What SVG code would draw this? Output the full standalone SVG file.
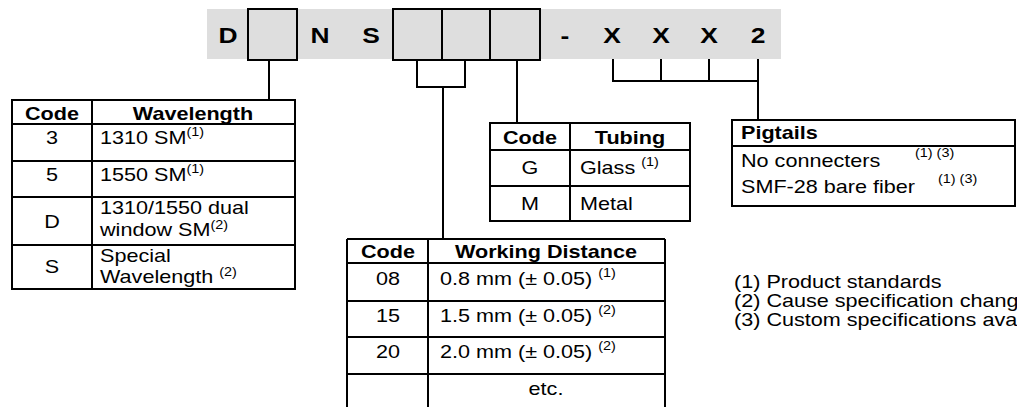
<svg xmlns="http://www.w3.org/2000/svg" width="1017" height="407" viewBox="0 0 1017 407">
<style>
.t{font-family:"Liberation Sans",Arial,sans-serif;font-size:18px;fill:#000}
.b{font-weight:bold}
.m{text-anchor:middle}
.s{font-size:12px}
.bar{font-size:22px;font-weight:bold}
.ln{stroke:#000;stroke-width:2;fill:none}
.bx{stroke:#000;stroke-width:2;fill:#dedede}
.tb{stroke:#000;stroke-width:2;fill:#fff}
</style>
<rect width="1017" height="407" fill="#fff"/>
<g id="code-bar">
<rect x="207" y="9" width="574" height="50" fill="#dedede"/>
<rect class="bx" x="248" y="9" width="49" height="51"/>
<rect class="bx" x="393" y="9" width="147" height="51"/>
<path class="ln" d="M442 9V60M490 9V60"/>
<text class="t bar m" transform="translate(228 43) scale(1.2 1)">D</text>
<text class="t bar m" transform="translate(320 43) scale(1.2 1)">N</text>
<text class="t bar m" transform="translate(371 43) scale(1.2 1)">S</text>
<text class="t bar m" transform="translate(565 43) scale(1.2 1)">-</text>
<text class="t bar m" transform="translate(612 43) scale(1.2 1)">X</text>
<text class="t bar m" transform="translate(661 43) scale(1.2 1)">X</text>
<text class="t bar m" transform="translate(709 43) scale(1.2 1)">X</text>
<text class="t bar m" transform="translate(758 43) scale(1.2 1)">2</text>
</g>
<g id="connectors">
<path class="ln" d="M269 60V100"/>
<path class="ln" d="M417 60V87H465M465 60V88M443 87V239"/>
<path class="ln" d="M517 60V123"/>
<path class="ln" d="M613 59V81H758M661 59V81M709 59V81M758 59V120"/>
</g>
<g id="wavelength-table">
<rect class="tb" x="12" y="100" width="283" height="189"/>
<path class="ln" d="M12 124H295M12 161H295M12 197H295M12 245H295M92 100V289"/>
<text class="t b m" transform="translate(52 120) scale(1.2 1)">Code</text>
<text class="t b m" transform="translate(193 120) scale(1.2 1)">Wavelength</text>
<text class="t m" transform="translate(52 144) scale(1.2 1)">3</text>
<text class="t" transform="translate(100 144) scale(1.2 1)">1310 SM<tspan class="s" dy="-8">(1)</tspan></text>
<text class="t m" transform="translate(52 181) scale(1.2 1)">5</text>
<text class="t" transform="translate(100 181) scale(1.2 1)">1550 SM<tspan class="s" dy="-8">(1)</tspan></text>
<text class="t m" transform="translate(52 228) scale(1.2 1)">D</text>
<text class="t" transform="translate(100 214) scale(1.2 1)">1310/1550 dual</text>
<text class="t" transform="translate(100 236) scale(1.2 1)">window SM<tspan class="s" dy="-7">(2)</tspan></text>
<text class="t m" transform="translate(52 273) scale(1.2 1)">S</text>
<text class="t" transform="translate(100 262) scale(1.2 1)">Special</text>
<text class="t" transform="translate(100 283) scale(1.2 1)">Wavelength <tspan class="s" dy="-7">(2)</tspan></text>
</g>
<g id="tubing-table">
<rect class="tb" x="490" y="123" width="200" height="98"/>
<path class="ln" d="M490 150H690M490 186H690M570 123V221"/>
<text class="t b m" transform="translate(530 144) scale(1.2 1)">Code</text>
<text class="t b m" transform="translate(630 144) scale(1.2 1)">Tubing</text>
<text class="t m" transform="translate(530 174) scale(1.2 1)">G</text>
<text class="t" transform="translate(580 174) scale(1.2 1)">Glass <tspan class="s" dy="-8">(1)</tspan></text>
<text class="t m" transform="translate(530 210) scale(1.2 1)">M</text>
<text class="t" transform="translate(580 210) scale(1.2 1)">Metal</text>
</g>
<g id="distance-table">
<path class="ln" d="M347 239H665M347 263H665M347 301H665M347 337H665M347 374H665M347 239V410M428 239V410M665 239V410"/>
<text class="t b m" transform="translate(388 258) scale(1.2 1)">Code</text>
<text class="t b m" transform="translate(546 258) scale(1.2 1)">Working Distance</text>
<text class="t m" transform="translate(388 285) scale(1.2 1)">08</text>
<text class="t" transform="translate(440 285) scale(1.2 1)">0.8 mm (± 0.05) <tspan class="s" dy="-8">(1)</tspan></text>
<text class="t m" transform="translate(388 322) scale(1.2 1)">15</text>
<text class="t" transform="translate(440 322) scale(1.2 1)">1.5 mm (± 0.05) <tspan class="s" dy="-8">(2)</tspan></text>
<text class="t m" transform="translate(388 358) scale(1.2 1)">20</text>
<text class="t" transform="translate(440 358) scale(1.2 1)">2.0 mm (± 0.05) <tspan class="s" dy="-8">(2)</tspan></text>
<text class="t m" transform="translate(546 395) scale(1.2 1)">etc.</text>
</g>
<g id="pigtails-table">
<rect class="tb" x="732" y="120" width="283" height="86"/>
<path class="ln" d="M732 146H1015"/>
<text class="t b" transform="translate(741 139) scale(1.2 1)">Pigtails</text>
<text class="t" transform="translate(741 167) scale(1.2 1)">No connecters</text>
<text class="t s" transform="translate(915 157) scale(1.2 1)">(1) (3)</text>
<text class="t" transform="translate(741 193) scale(1.2 1)">SMF-28 bare fiber</text>
<text class="t s" transform="translate(938 183) scale(1.2 1)">(1) (3)</text>
</g>
<g id="notes">
<text class="t" transform="translate(734 288) scale(1.2 1)">(1) Product standards</text>
<text class="t" transform="translate(734 307) scale(1.2 1)">(2) Cause specification changes</text>
<text class="t" transform="translate(734 326) scale(1.2 1)">(3) Custom specifications available</text>
</g>
</svg>
